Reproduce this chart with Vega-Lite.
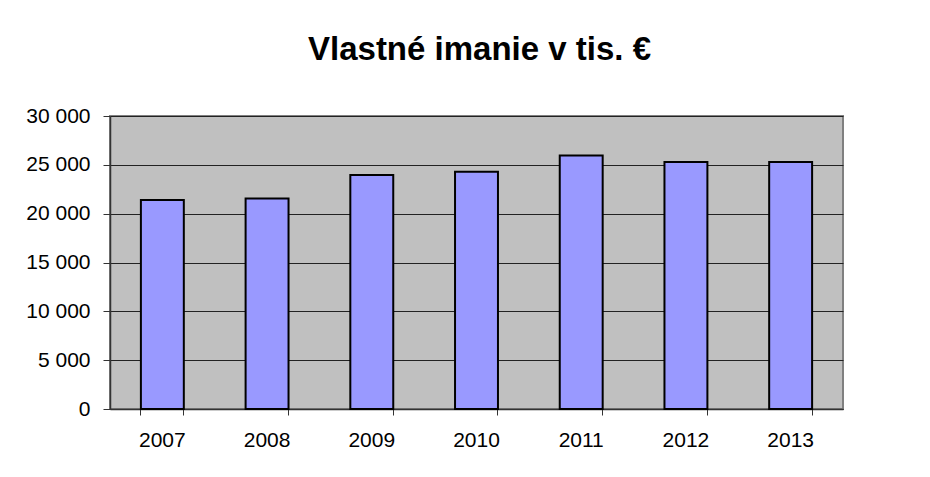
{
  "$schema": "https://vega.github.io/schema/vega-lite/v6.json",
  "autosize": "none",
  "width": 733,
  "height": 293,
  "padding": {"left": 110, "top": 116, "right": 87, "bottom": 68},
  "background": "white",
  "title": {
    "text": "Vlastné imanie v tis. €",
    "font": "Liberation Sans",
    "fontSize": 33,
    "fontWeight": "bold",
    "color": "black",
    "anchor": "middle",
    "frame": "group",
    "offset": 38,
    "dx": 3
  },
  "data": {
    "values": [
      {"rok": "2007", "hodnota": 21400},
      {"rok": "2008", "hodnota": 21550},
      {"rok": "2009", "hodnota": 23950},
      {"rok": "2010", "hodnota": 24300},
      {"rok": "2011", "hodnota": 25950},
      {"rok": "2012", "hodnota": 25300},
      {"rok": "2013", "hodnota": 25300}
    ]
  },
  "mark": {"type": "bar", "fill": "#9999FF", "stroke": "black", "strokeWidth": 2},
  "encoding": {
    "x": {
      "field": "rok",
      "type": "nominal",
      "scale": {"paddingInner": 0.59, "paddingOuter": 0.295},
      "axis": {
        "title": null,
        "labelAngle": 0,
        "labelFont": "Liberation Sans",
        "labelFontSize": 21,
        "labelColor": "black",
        "labelPadding": 14,
        "tickSize": 6,
        "tickColor": "#333",
        "domainColor": "#333",
        "domainWidth": 1.5,
        "bandPosition": 1,
        "tickExtra": true,
        "grid": false
      }
    },
    "y": {
      "field": "hodnota",
      "type": "quantitative",
      "scale": {"domain": [0, 30000], "nice": false},
      "axis": {
        "title": null,
        "values": [0, 5000, 10000, 15000, 20000, 25000, 30000],
        "labelExpr": "replace(format(datum.value, ','), ',', ' ')",
        "labelFont": "Liberation Sans",
        "labelFontSize": 21,
        "labelColor": "black",
        "labelPadding": 13,
        "tickSize": 7,
        "tickColor": "#333",
        "domainColor": "#333",
        "domainWidth": 1.5,
        "grid": true,
        "gridColor": "#222",
        "gridWidth": 1,
        "gridOpacity": 1
      }
    }
  },
  "config": {
    "view": {"fill": "#C0C0C0", "stroke": "#808080", "strokeWidth": 2}
  }
}
